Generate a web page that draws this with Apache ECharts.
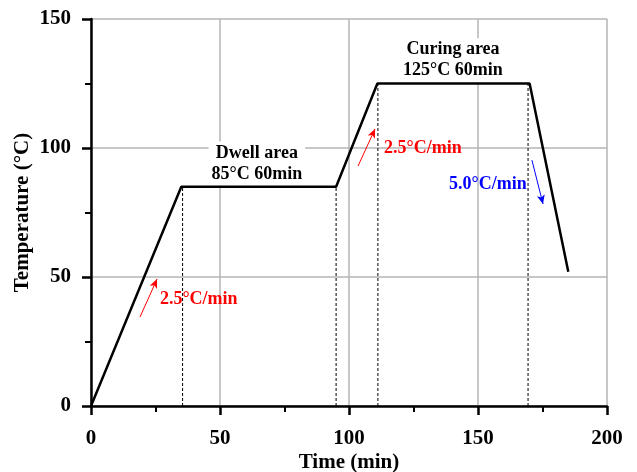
<!DOCTYPE html>
<html><head><meta charset="utf-8">
<script src="https://cdn.jsdelivr.net/npm/echarts@6/dist/echarts.min.js"></script>
<style>html,body{margin:0;padding:0;background:#fff}#c{width:637px;height:472px}</style>
</head><body><div id="c"></div>
<script>
// Temperature profile (time in min, temperature in °C)
const profileTime = [0, 35, 95, 111, 170, 185];
const profileTemp = [0, 85, 85, 125, 125, 52];
// dotted guide lines: x position and top temperature
const guideTime = [35.5, 95, 111.2, 169.4];
const guideTemp = [85, 85, 125, 125];
// rate arrows: [tailX, tailY, headX, headY]
const arrowRed1 = [19, 34.5, 25.6, 49.2];
const arrowRed2 = [103.5, 93, 110.1, 107.4];
const arrowBlue = [170.9, 95.3, 175.2, 78.3];
// annotations
const annotText = ['Dwell area\n85°C 60min', 'Curing area\n125°C 60min', '2.5°C/min', '2.5°C/min', '5.0°C/min'];
const annotPos = [[64.3, 94], [140.3, 134], [26.7, 41.5], [113.6, 100], [138.8, 86]];
const xTicks = [0, 50, 100, 150, 200];
const yTicks = [0, 50, 100, 150];

const FONT = '"Liberation Serif", "Times New Roman", serif';
const chart = echarts.init(document.getElementById('c'));

const guides = guideTime.map((t, i) => ({
  type: 'line', data: [[t, 0], [t, guideTemp[i]]], symbol: 'none', silent: true,
  lineStyle: { color: '#000', width: 1, type: [3, 2] }, z: 3
}));

function arrow(a, color) {
  return [
    { coord: [a[0], a[1]], symbol: 'none', lineStyle: { color: color, width: 1, type: 'solid' } },
    { coord: [a[2], a[3]], symbol: 'arrow', symbolSize: [6, 9] }
  ];
}

const colors = ['#000', '#000', '#ff0000', '#ff0000', '#0000ff'];
const markPts = annotText.map((t, i) => ({
  coord: annotPos[i], value: t,
  label: {
    show: true, formatter: t, color: colors[i],
    position: i < 2 ? 'inside' : 'right', distance: 0,
    align: i < 2 ? 'center' : 'left',
    fontFamily: FONT, fontWeight: 'bold', fontSize: 18, lineHeight: 21,
    backgroundColor: i < 2 ? '#fff' : 'transparent',
    padding: i < 2 ? [1, 3] : 0
  }
}));

const axisCommon = {
  type: 'value', interval: 50,
  axisLine: { show: true, onZero: false, lineStyle: { color: '#000', width: 2.5 } },
  axisTick: { show: true, inside: false, length: 9, lineStyle: { color: '#000', width: 2.5 } },
  minorTick: { show: true, splitNumber: 2, length: 6, lineStyle: { color: '#000', width: 2 } },
  splitLine: { show: true, lineStyle: { color: '#b4b4b4', width: 1.5 } },
  axisLabel: { color: '#000', fontFamily: FONT, fontWeight: 'bold', fontSize: 21 },
  nameLocation: 'middle',
  nameMoveOverlap: false,
  nameTextStyle: { color: '#000', fontFamily: FONT, fontWeight: 'bold', fontSize: 21 }
};

chart.setOption({
  animation: false,
  grid: { left: 91, right: 30, top: 19, bottom: 66, show: false, containLabel: false, outerBoundsMode: 'none' },
  xAxis: Object.assign({}, axisCommon, {
    min: xTicks[0], max: xTicks[xTicks.length - 1],
    name: 'Time (min)', nameGap: 46,
    axisLabel: Object.assign({}, axisCommon.axisLabel, { margin: 22 })
  }),
  yAxis: Object.assign({}, axisCommon, {
    min: yTicks[0], max: yTicks[yTicks.length - 1],
    name: 'Temperature (°C)', nameGap: 58,
    axisLabel: Object.assign({}, axisCommon.axisLabel, { margin: 20 })
  }),
  series: [
    ...guides,
    {
      type: 'line', data: profileTime.map((t, i) => [t, profileTemp[i]]),
      symbol: 'none', lineStyle: { color: '#000', width: 2.5 }, z: 5,
      markLine: {
        silent: true, animation: false, label: { show: false },
        data: [arrow(arrowRed1, '#ff0000'), arrow(arrowRed2, '#ff0000'), arrow(arrowBlue, '#0000ff')]
      },
      markPoint: { symbol: 'rect', symbolSize: 0, silent: true, data: markPts }
    }
  ]
});
</script></body></html>
